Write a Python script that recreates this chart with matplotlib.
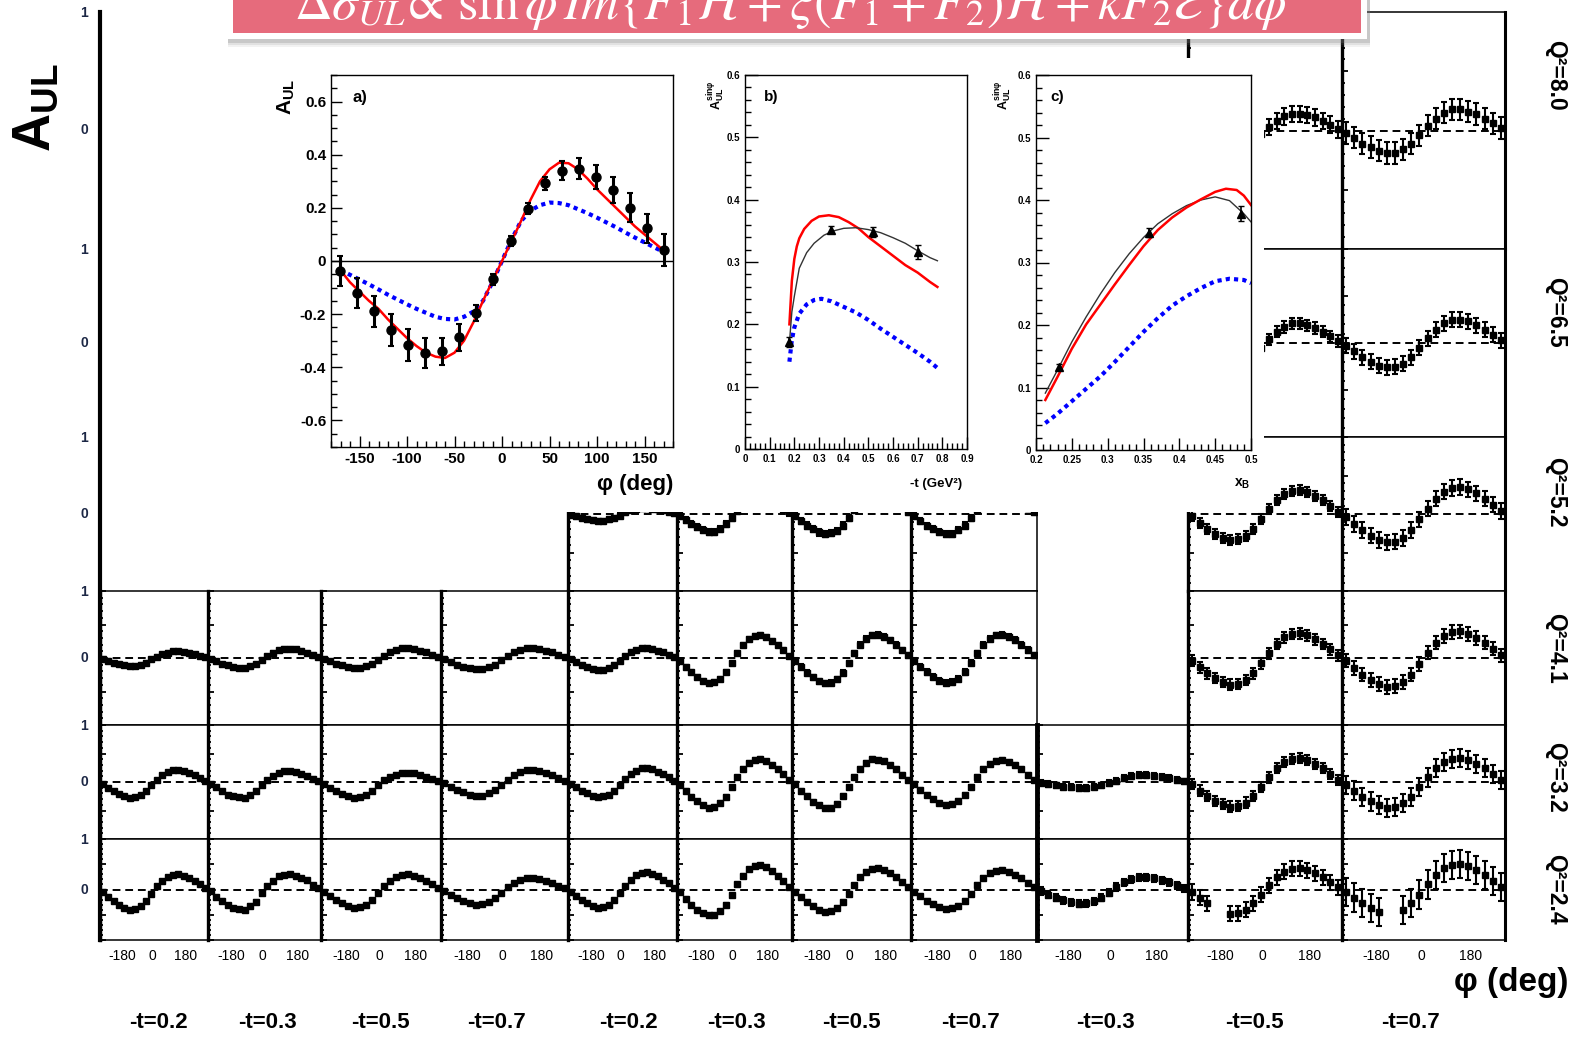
import numpy as np
import matplotlib
matplotlib.use("Agg")
import matplotlib.pyplot as plt
from matplotlib.patches import Rectangle
from matplotlib.lines import Line2D
from matplotlib.ticker import MultipleLocator

plt.rcParams['font.family'] = ['Liberation Sans', 'DejaVu Sans']
plt.rcParams['mathtext.fontset'] = 'custom'
plt.rcParams['mathtext.rm'] = 'Liberation Sans'
plt.rcParams['mathtext.it'] = 'Liberation Sans:italic'
plt.rcParams['mathtext.bf'] = 'Liberation Sans:bold'
NARROW = ['Liberation Sans Narrow', 'Liberation Sans', 'DejaVu Sans']

# ---------------------------------------------------------------- data
Q2_LABELS = ['Q²=8.0', 'Q²=6.5', 'Q²=5.2', 'Q²=4.1', 'Q²=3.2', 'Q²=2.4']
T_LABELS = ['-t=0.2', '-t=0.3', '-t=0.5', '-t=0.7', '-t=0.2', '-t=0.3',
            '-t=0.5', '-t=0.7', '-t=0.3', '-t=0.5', '-t=0.7']
PHI_TICK_LABELS = ['-180', '0', '180']

PHI_BINS = [-171, -153, -135, -117, -99, -81, -63, -45, -27, -9,
            9, 27, 45, 63, 81, 99, 117, 135, 153, 171]

nan = np.nan

A_Q80 = [None, None, None, None, None, None, None, None, None,
         [-0.02, -0.06, -0.10, -0.13, -0.15, -0.17, -0.17, -0.14, -0.10, -0.03,
          0.03, 0.08, 0.12, 0.14, 0.14, 0.13, 0.11, 0.08, 0.05, 0.01],
         [-0.02, -0.06, -0.11, -0.14, -0.17, -0.19, -0.19, -0.16, -0.11, -0.04,
          0.04, 0.10, 0.15, 0.18, 0.18, 0.16, 0.14, 0.10, 0.06, 0.02]]
E_Q80 = [None, None, None, None, None, None, None, None, None, 0.07, 0.09]

A_Q65 = [None, None, None, None, None, None, None, None, None,
         [-0.02, -0.08, -0.14, -0.18, -0.22, -0.24, -0.24, -0.20, -0.14, -0.05,
          0.04, 0.12, 0.17, 0.21, 0.21, 0.19, 0.16, 0.12, 0.07, 0.02],
         [-0.03, -0.09, -0.15, -0.20, -0.24, -0.26, -0.25, -0.22, -0.15, -0.05,
          0.05, 0.14, 0.21, 0.25, 0.25, 0.23, 0.19, 0.14, 0.09, 0.03]]
E_Q65 = [None, None, None, None, None, None, None, None, None, 0.06, 0.08]

A_Q52 = [None, None, None, None,
         [-0.01, -0.03, -0.05, -0.07, -0.08, -0.09, -0.09, -0.07, -0.05, -0.02,
          0.02, 0.05, 0.07, 0.08, 0.08, 0.07, 0.06, 0.05, 0.03, 0.01],
         [-0.02, -0.08, -0.13, -0.17, -0.21, -0.23, -0.23, -0.19, -0.13, -0.05,
          0.04, 0.13, 0.18, 0.22, 0.22, 0.20, 0.17, 0.13, 0.07, 0.02],
         [-0.03, -0.09, -0.15, -0.20, -0.24, -0.26, -0.25, -0.22, -0.15, -0.05,
          0.05, 0.14, 0.21, 0.25, 0.25, 0.23, 0.19, 0.14, 0.09, 0.03],
         [-0.02, -0.09, -0.16, -0.20, -0.23, -0.26, -0.26, -0.21, -0.15, -0.05,
          0.05, 0.15, 0.21, 0.24, 0.25, 0.23, 0.19, 0.14, 0.08, 0.03],
         None,
         [-0.03, -0.12, -0.19, -0.26, -0.31, -0.34, -0.33, -0.28, -0.19, -0.07,
          0.06, 0.18, 0.26, 0.30, 0.31, 0.28, 0.24, 0.18, 0.11, 0.03],
         [-0.04, -0.13, -0.21, -0.28, -0.34, -0.37, -0.36, -0.31, -0.21, -0.07,
          0.07, 0.20, 0.29, 0.34, 0.35, 0.32, 0.27, 0.20, 0.12, 0.04]]
E_Q52 = [None, None, None, None, 0.03, 0.04, 0.04, 0.04, None, 0.065, 0.10]

A_Q41 = [[-0.01, -0.04, -0.07, -0.09, -0.11, -0.12, -0.12, -0.10, -0.07, -0.02,
          0.02, 0.06, 0.08, 0.10, 0.10, 0.09, 0.08, 0.06, 0.03, 0.01],
         [-0.02, -0.05, -0.09, -0.11, -0.14, -0.15, -0.15, -0.12, -0.09, -0.03,
          0.03, 0.08, 0.12, 0.14, 0.14, 0.13, 0.11, 0.08, 0.05, 0.01],
         [-0.02, -0.05, -0.09, -0.11, -0.14, -0.15, -0.15, -0.12, -0.09, -0.03,
          0.03, 0.09, 0.12, 0.15, 0.15, 0.14, 0.11, 0.09, 0.05, 0.02],
         [-0.02, -0.06, -0.10, -0.13, -0.15, -0.17, -0.17, -0.14, -0.10, -0.03,
          0.03, 0.09, 0.12, 0.15, 0.15, 0.14, 0.11, 0.09, 0.05, 0.02],
         [-0.02, -0.06, -0.10, -0.14, -0.16, -0.18, -0.18, -0.15, -0.10, -0.04,
          0.03, 0.09, 0.12, 0.15, 0.15, 0.14, 0.11, 0.09, 0.05, 0.02],
         [-0.04, -0.13, -0.21, -0.28, -0.34, -0.37, -0.36, -0.31, -0.21, -0.07,
          0.07, 0.19, 0.28, 0.33, 0.34, 0.31, 0.26, 0.19, 0.12, 0.03],
         [-0.04, -0.13, -0.22, -0.29, -0.35, -0.38, -0.37, -0.32, -0.22, -0.08,
          0.07, 0.20, 0.29, 0.34, 0.35, 0.32, 0.27, 0.20, 0.12, 0.04],
         [-0.04, -0.13, -0.21, -0.28, -0.34, -0.37, -0.36, -0.31, -0.21, -0.07,
          0.07, 0.20, 0.29, 0.34, 0.35, 0.32, 0.27, 0.20, 0.12, 0.04],
         None,
         [-0.04, -0.14, -0.23, -0.30, -0.36, -0.40, -0.39, -0.33, -0.23, -0.08,
          0.07, 0.21, 0.31, 0.36, 0.37, 0.34, 0.28, 0.21, 0.13, 0.04],
         [-0.04, -0.15, -0.25, -0.33, -0.39, -0.43, -0.42, -0.36, -0.25, -0.09,
          0.08, 0.23, 0.33, 0.39, 0.40, 0.36, 0.30, 0.23, 0.14, 0.04]]
E_Q41 = [0.02, 0.02, 0.02, 0.02, 0.02, 0.03, 0.035, 0.04, None, 0.08, 0.10]

A_Q32 = [[-0.03, -0.10, -0.16, -0.21, -0.25, -0.28, -0.27, -0.23, -0.16, -0.06,
          0.04, 0.12, 0.17, 0.21, 0.21, 0.19, 0.16, 0.12, 0.07, 0.02],
         [-0.03, -0.09, -0.16, -0.22, -0.25, -0.27, -0.28, -0.23, -0.15, -0.06,
          0.04, 0.11, 0.16, 0.19, 0.19, 0.17, 0.14, 0.11, 0.06, 0.02],
         [-0.03, -0.10, -0.16, -0.21, -0.25, -0.28, -0.27, -0.23, -0.16, -0.06,
          0.03, 0.09, 0.13, 0.16, 0.16, 0.15, 0.12, 0.09, 0.05, 0.02],
         [-0.02, -0.08, -0.14, -0.18, -0.22, -0.24, -0.24, -0.20, -0.14, -0.05,
          0.04, 0.12, 0.17, 0.21, 0.21, 0.19, 0.16, 0.12, 0.07, 0.02],
         [-0.03, -0.09, -0.15, -0.20, -0.24, -0.26, -0.25, -0.22, -0.15, -0.05,
          0.05, 0.14, 0.20, 0.24, 0.24, 0.22, 0.18, 0.14, 0.08, 0.02],
         [-0.05, -0.15, -0.26, -0.34, -0.41, -0.45, -0.44, -0.37, -0.26, -0.09,
          0.08, 0.23, 0.33, 0.39, 0.40, 0.36, 0.30, 0.23, 0.14, 0.04],
         [-0.04, -0.16, -0.25, -0.35, -0.40, -0.45, -0.45, -0.38, -0.25, -0.09,
          0.08, 0.22, 0.34, 0.40, 0.39, 0.37, 0.30, 0.22, 0.13, 0.04],
         [-0.04, -0.14, -0.23, -0.30, -0.36, -0.40, -0.39, -0.33, -0.23, -0.08,
          0.08, 0.22, 0.32, 0.37, 0.38, 0.35, 0.29, 0.22, 0.13, 0.04],
         [-0.01, -0.03, -0.06, -0.08, -0.09, -0.10, -0.10, -0.08, -0.06, -0.02,
          0.02, 0.07, 0.10, 0.12, 0.12, 0.11, 0.09, 0.07, 0.04, 0.01],
         [-0.04, -0.15, -0.25, -0.33, -0.39, -0.43, -0.42, -0.36, -0.25, -0.09,
          0.08, 0.24, 0.35, 0.41, 0.42, 0.38, 0.32, 0.24, 0.14, 0.04],
         [-0.05, -0.15, -0.26, -0.34, -0.41, -0.45, -0.44, -0.37, -0.26, -0.09,
          0.08, 0.24, 0.35, 0.41, 0.42, 0.38, 0.32, 0.24, 0.14, 0.04]]
E_Q32 = [0.02, 0.02, 0.02, 0.02, 0.02, 0.03, 0.035, 0.035, 0.05, 0.09, 0.16]

A_Q24 = [[-0.04, -0.14, -0.23, -0.30, -0.36, -0.40, -0.39, -0.33, -0.23, -0.08,
          0.06, 0.17, 0.25, 0.29, 0.30, 0.27, 0.23, 0.17, 0.10, 0.03],
         [-0.03, -0.15, -0.22, -0.31, -0.37, -0.39, -0.40, -0.32, -0.24, -0.07,
          0.07, 0.16, 0.26, 0.29, 0.31, 0.27, 0.22, 0.18, 0.09, 0.03],
         [-0.04, -0.12, -0.21, -0.27, -0.33, -0.36, -0.35, -0.30, -0.21, -0.07,
          0.06, 0.17, 0.25, 0.29, 0.30, 0.27, 0.23, 0.17, 0.10, 0.03],
         [-0.03, -0.10, -0.17, -0.23, -0.27, -0.30, -0.29, -0.25, -0.17, -0.06,
          0.04, 0.13, 0.18, 0.22, 0.22, 0.20, 0.17, 0.13, 0.07, 0.02],
         [-0.04, -0.12, -0.21, -0.27, -0.33, -0.36, -0.35, -0.30, -0.21, -0.07,
          0.07, 0.19, 0.28, 0.33, 0.34, 0.31, 0.26, 0.19, 0.12, 0.03],
         [-0.05, -0.18, -0.30, -0.40, -0.47, -0.51, -0.51, -0.43, -0.30, -0.10,
          0.10, 0.27, 0.40, 0.47, 0.48, 0.44, 0.36, 0.27, 0.16, 0.05],
         [-0.04, -0.15, -0.25, -0.33, -0.40, -0.44, -0.43, -0.37, -0.25, -0.09,
          0.08, 0.24, 0.35, 0.41, 0.42, 0.38, 0.32, 0.24, 0.14, 0.04],
         [-0.04, -0.13, -0.22, -0.29, -0.35, -0.38, -0.37, -0.32, -0.22, -0.08,
          0.08, 0.22, 0.32, 0.37, 0.38, 0.35, 0.29, 0.22, 0.13, 0.04],
         [-0.03, -0.10, -0.16, -0.21, -0.25, -0.28, -0.27, -0.23, -0.16, -0.06,
          0.05, 0.14, 0.20, 0.24, 0.24, 0.22, 0.18, 0.14, 0.08, 0.02],
         [-0.05, -0.16, -0.27, nan, nan, -0.48, -0.47, -0.40, -0.27, -0.10,
          0.08, 0.24, 0.35, 0.41, 0.42, 0.38, 0.32, 0.24, 0.14, 0.04],
         [-0.05, -0.16, -0.27, -0.36, -0.44, nan, nan, -0.40, -0.27, -0.10,
          0.10, 0.29, 0.42, 0.49, 0.50, 0.46, 0.38, 0.29, 0.17, 0.05]]
E_Q24 = [0.025, 0.025, 0.025, 0.025, 0.025, 0.03, 0.035, 0.04, 0.07, 0.15, 0.28]

ROWS_A = [A_Q80, A_Q65, A_Q52, A_Q41, A_Q32, A_Q24]
ROWS_E = [E_Q80, E_Q65, E_Q52, E_Q41, E_Q32, E_Q24]

# inset a): phi dependence at one kinematic bin
PHI_A = PHI_BINS
A_A = [-0.038, -0.12, -0.19, -0.26, -0.317, -0.346, -0.34, -0.287, -0.195, -0.069,
       0.075, 0.197, 0.293, 0.34, 0.348, 0.317, 0.267, 0.20, 0.123, 0.041]
DA_A = [0.055, 0.055, 0.06, 0.06, 0.06, 0.055, 0.05, 0.05, 0.03, 0.02,
        0.02, 0.02, 0.025, 0.035, 0.04, 0.045, 0.05, 0.055, 0.055, 0.06]
PHI_MODEL = [-170, -160, -150, -140, -130, -120, -110, -100, -90, -80, -70, -60,
             -50, -40, -30, -20, -10, 0, 10, 20, 30, 40, 50, 60, 70, 80, 90,
             100, 110, 120, 130, 140, 150, 160, 170]
RED_A = [-0.035, -0.08, -0.115, -0.15, -0.18, -0.22, -0.255, -0.29, -0.32, -0.345,
         -0.36, -0.365, -0.345, -0.30, -0.23, -0.15, -0.075, 0.0, 0.075, 0.15,
         0.23, 0.30, 0.345, 0.37, 0.368, 0.345, 0.31, 0.27, 0.235, 0.20, 0.165,
         0.13, 0.10, 0.07, 0.04]
BLUE_A = [-0.034, -0.052, -0.07, -0.088, -0.107, -0.127, -0.145, -0.163, -0.18,
          -0.195, -0.21, -0.218, -0.22, -0.21, -0.19, -0.15, -0.08, 0.0, 0.08,
          0.15, 0.19, 0.21, 0.22, 0.218, 0.21, 0.195, 0.18, 0.163, 0.145, 0.127,
          0.107, 0.088, 0.07, 0.052, 0.034]

# inset b): sin(phi) moment versus -t
T_B = [0.18, 0.35, 0.52, 0.70]
A_B = [0.172, 0.352, 0.348, 0.316]
DA_B = [0.008, 0.005, 0.008, 0.011]
T_FIT_B = [0.18, 0.19, 0.20, 0.22, 0.25, 0.28, 0.32, 0.36, 0.40, 0.45, 0.50,
           0.55, 0.60, 0.65, 0.70, 0.75, 0.78]
FIT_B = [0.17, 0.22, 0.245, 0.29, 0.315, 0.33, 0.343, 0.35, 0.354, 0.355, 0.352,
         0.347, 0.339, 0.33, 0.318, 0.307, 0.302]
T_RED_B = [0.18, 0.19, 0.20, 0.21, 0.22, 0.24, 0.27, 0.30, 0.34, 0.38, 0.42,
           0.46, 0.50, 0.55, 0.60, 0.65, 0.70, 0.75, 0.78]
RED_B = [0.20, 0.27, 0.305, 0.325, 0.338, 0.353, 0.366, 0.373, 0.375, 0.372,
         0.364, 0.354, 0.34, 0.325, 0.31, 0.295, 0.283, 0.268, 0.26]
T_BLUE_B = [0.18, 0.19, 0.20, 0.22, 0.25, 0.28, 0.31, 0.35, 0.40, 0.45, 0.50,
            0.55, 0.60, 0.65, 0.70, 0.75, 0.78]
BLUE_B = [0.14, 0.175, 0.195, 0.217, 0.232, 0.239, 0.241, 0.237, 0.228, 0.219,
          0.207, 0.193, 0.18, 0.167, 0.154, 0.14, 0.13]

# inset c): sin(phi) moment versus x_B
X_C = [0.232, 0.357, 0.486]
A_C = [0.133, 0.348, 0.378]
DA_C = [0.005, 0.007, 0.012]
X_FIT_C = [0.213, 0.23, 0.25, 0.27, 0.29, 0.31, 0.33, 0.35, 0.37, 0.39, 0.41,
           0.43, 0.45, 0.47, 0.49, 0.50]
FIT_C = [0.091, 0.128, 0.173, 0.213, 0.25, 0.284, 0.314, 0.34, 0.362, 0.378,
         0.391, 0.40, 0.405, 0.399, 0.378, 0.365]
X_RED_C = [0.213, 0.23, 0.25, 0.27, 0.29, 0.31, 0.33, 0.35, 0.37, 0.39, 0.41,
           0.43, 0.45, 0.465, 0.48, 0.49, 0.50]
RED_C = [0.08, 0.117, 0.162, 0.201, 0.233, 0.265, 0.296, 0.326, 0.352, 0.372,
         0.388, 0.401, 0.413, 0.418, 0.416, 0.407, 0.392]
X_BLUE_C = [0.213, 0.23, 0.25, 0.27, 0.29, 0.31, 0.33, 0.35, 0.37, 0.39, 0.41,
            0.43, 0.45, 0.47, 0.49, 0.50]
BLUE_C = [0.043, 0.058, 0.078, 0.098, 0.118, 0.141, 0.165, 0.189, 0.211, 0.231,
          0.246, 0.259, 0.27, 0.274, 0.272, 0.267]

FORMULA = (r'$\Delta\sigma_{UL}\!\propto\,\sin\phi\,Im\{F_1\mathcal{H}+\xi(F_1+F_2)'
           r'\tilde{\mathcal{H}}+kF_2\mathcal{E}\}d\phi$')

# ---------------------------------------------------------------- layout (pixels)
W, H = 1576, 1045
COL_EDGES = [100, 208, 321, 441, 568, 677, 792, 911, 1037, 1188, 1342, 1505]
ROW_EDGES = [12, 249, 437, 591, 725, 839, 940]
T_LABEL_X = [158, 267, 380, 497, 628, 736, 851, 970, 1105, 1254, 1410]
Q2_LABEL_Y = [75, 312, 492, 648, 777, 889]


def fx(px):
    return px / W


def fy(py):
    return 1 - py / H


def pbox(x0, y0, x1, y1):
    return [x0 / W, 1 - y1 / H, (x1 - x0) / W, (y1 - y0) / H]


fig = plt.figure(figsize=(W / 100, H / 100), dpi=100)
fig.patch.set_facecolor('white')

# ---------------------------------------------------------------- grid of panels
n_rows = len(ROWS_A)
for r in range(n_rows):
    y0, y1 = ROW_EDGES[r], ROW_EDGES[r + 1]
    for c, vals in enumerate(ROWS_A[r]):
        if vals is None:
            continue
        x0, x1 = COL_EDGES[c], COL_EDGES[c + 1]
        ax = fig.add_axes(pbox(x0, y0, x1, y1), zorder=0)
        ax.set_xlim(-180, 180)
        ax.set_ylim(-1, 1)
        ax.axhline(0, color='k', lw=1.4, ls=(0, (4, 2.5)), zorder=1)
        ax.errorbar(PHI_BINS, np.array(vals, dtype=float), yerr=ROWS_E[r][c],
                    fmt='s', ms=4, mfc='k', mec='k', ecolor='k',
                    elinewidth=1.5, capsize=2.2, capthick=1.5, zorder=2)
        for side in ('top', 'bottom', 'right'):
            ax.spines[side].set_linewidth(1.1)
        ax.spines['left'].set_linewidth(3.5 if c == 8 else 2.4)
        if c == len(COL_EDGES) - 2:
            ax.spines['right'].set_linewidth(2.2)
        ax.set_xticks([])
        ax.yaxis.set_major_locator(MultipleLocator(0.5))
        ax.yaxis.set_minor_locator(MultipleLocator(0.1))
        ax.tick_params(axis='y', which='both', direction='in', left=True,
                       right=False, labelleft=False, width=1.3)
        ax.tick_params(axis='y', which='major', length=4)
        ax.tick_params(axis='y', which='minor', length=2.5)
        if r == n_rows - 1:
            for lbl, xf in zip(PHI_TICK_LABELS, (0.21, 0.485, 0.79)):
                ax.text(xf, -0.16, lbl, transform=ax.transAxes, ha='center',
                        va='center', fontsize=10, family=NARROW,
                        fontstretch='condensed')

# main left axis line and its labels
fig.add_artist(Line2D([fx(100), fx(100)], [fy(12), fy(940)],
                      transform=fig.transFigure, color='k', lw=3, zorder=2))
for r in range(n_rows):
    top, bot = ROW_EDGES[r], ROW_EDGES[r + 1]
    fig.text(fx(84), fy(top + 1), '1', ha='center', va='center', fontsize=10,
             fontweight='bold', color='#1c2745')
    fig.text(fx(84), fy((top + bot) / 2), '0', ha='center', va='center',
             fontsize=10, fontweight='bold', color='#1c2745')
    fig.text(fx(1556), fy(Q2_LABEL_Y[r]), Q2_LABELS[r], rotation=270,
             ha='center', va='center', fontsize=16.5, fontweight='bold',
             family=NARROW, fontstretch='condensed')

for lbl, xp in zip(T_LABELS, T_LABEL_X):
    fig.text(fx(xp), fy(1023), lbl, ha='center', va='center', fontsize=16,
             fontweight='bold', family=NARROW, fontstretch='condensed')

fig.text(fx(36), fy(108), r'$\mathbf{A}_{\mathbf{UL}}$', rotation=90,
         ha='center', va='center', fontsize=38)
fig.text(fx(1568), fy(983), 'φ (deg)', ha='right', va='center', fontsize=24,
         fontweight='bold')

# white backdrop behind the inset plots
fig.add_artist(Rectangle((fx(268), fy(512)), (1264 - 268) / W, (512 - 58) / H,
                         transform=fig.transFigure, facecolor='white',
                         edgecolor='none', zorder=1.5))


def style_inset(ax, fs):
    for s in ax.spines.values():
        s.set_linewidth(1.0)
    ax.tick_params(which='both', direction='in', top=False, right=False,
                   labelsize=fs, width=1.0)


# ---------------------------------------------------------------- inset a
axa = fig.add_axes(pbox(331, 75, 673, 447), zorder=3)
axa.set_xlim(-180, 180)
axa.set_ylim(-0.7, 0.7)
axa.axhline(0, color='k', lw=1.0)
axa.plot(PHI_MODEL, BLUE_A, color='#0000ff', lw=3, ls=(0, (1, 1)))
axa.plot(PHI_MODEL, RED_A, color='#ff0000', lw=1.8)
axa.errorbar(PHI_A, A_A, yerr=DA_A, fmt='o', ms=6.5, color='k', elinewidth=2.2,
             capsize=2.5, capthick=1.5)
style_inset(axa, 10)
axa.set_xticks([-150, -100, -50, 0, 50, 100, 150],
               labels=['-150', '-100', '-50', '0', '50', '100', '150'],
               fontweight='bold', fontsize=11)
axa.set_yticks([-0.6, -0.4, -0.2, 0, 0.2, 0.4, 0.6],
               labels=['-0.6', '-0.4', '-0.2', '0', '0.2', '0.4', '0.6'],
               fontweight='bold', fontsize=11)
axa.xaxis.set_minor_locator(MultipleLocator(10))
axa.yaxis.set_minor_locator(MultipleLocator(0.05))
axa.tick_params(which='major', length=8)
axa.tick_params(which='minor', length=4)
axa.text(-0.13, 0.94, r'$\mathbf{A}_{\mathbf{UL}}$', transform=axa.transAxes,
         rotation=90, ha='center', va='center', fontsize=15)
axa.text(0.085, 0.94, 'a)', transform=axa.transAxes, ha='center', va='center',
         fontsize=12, fontweight='bold')
axa.text(1.0, -0.102, 'φ (deg)', transform=axa.transAxes, ha='right',
         va='center', fontsize=16, fontweight='bold')

# ---------------------------------------------------------------- inset b
axb = fig.add_axes(pbox(745, 75, 967, 449), zorder=3)
axb.set_xlim(0, 0.9)
axb.set_ylim(0, 0.6)
axb.plot(T_BLUE_B, BLUE_B, color='#0000ff', lw=3, ls=(0, (1, 1)))
axb.plot(T_RED_B, RED_B, color='#ff0000', lw=1.8)
axb.plot(T_FIT_B, FIT_B, color='#333333', lw=1.0)
axb.errorbar(T_B, A_B, yerr=DA_B, fmt='^', ms=5.5, color='k', elinewidth=1.2,
             capsize=2.5, capthick=1.0)
style_inset(axb, 7)
xt = [0, 0.1, 0.2, 0.3, 0.4, 0.5, 0.6, 0.7, 0.8, 0.9]
axb.set_xticks(xt, labels=['0', '0.1', '0.2', '0.3', '0.4', '0.5', '0.6', '0.7',
                           '0.8', '0.9'], fontweight='bold', fontsize=7)
yt = [0, 0.1, 0.2, 0.3, 0.4, 0.5, 0.6]
ylabels = ['0', '0.1', '0.2', '0.3', '0.4', '0.5', '0.6']
axb.set_yticks(yt, labels=ylabels, fontweight='bold', fontsize=7)
axb.xaxis.set_minor_locator(MultipleLocator(0.02))
axb.yaxis.set_minor_locator(MultipleLocator(0.02))
axb.tick_params(which='major', length=9)
axb.tick_params(which='minor', length=4)
axb.text(-0.13, 0.947, r'$\mathbf{A}_{\mathbf{UL}}^{\mathbf{sin\varphi}}$',
         transform=axb.transAxes, rotation=90, ha='center', va='center',
         fontsize=9)
axb.text(0.117, 0.94, 'b)', transform=axb.transAxes, ha='center', va='center',
         fontsize=11, fontweight='bold')
axb.text(0.98, -0.093, '-t (GeV²)', transform=axb.transAxes, ha='right',
         va='center', fontsize=9.5, fontweight='bold')

# ---------------------------------------------------------------- inset c
axc = fig.add_axes(pbox(1036, 75, 1251, 450), zorder=3)
axc.set_xlim(0.2, 0.5)
axc.set_ylim(0, 0.6)
axc.plot(X_BLUE_C, BLUE_C, color='#0000ff', lw=3, ls=(0, (1, 1)))
axc.plot(X_FIT_C, FIT_C, color='#333333', lw=1.0)
axc.plot(X_RED_C, RED_C, color='#ff0000', lw=1.8)
axc.errorbar(X_C, A_C, yerr=DA_C, fmt='^', ms=5.5, color='k', elinewidth=1.2,
             capsize=2.5, capthick=1.0)
style_inset(axc, 7)
axc.set_xticks([0.2, 0.25, 0.3, 0.35, 0.4, 0.45, 0.5],
               labels=['0.2', '0.25', '0.3', '0.35', '0.4', '0.45', '0.5'],
               fontweight='bold', fontsize=7)
axc.set_yticks(yt, labels=ylabels, fontweight='bold', fontsize=7)
axc.xaxis.set_minor_locator(MultipleLocator(0.01))
axc.yaxis.set_minor_locator(MultipleLocator(0.02))
axc.tick_params(which='major', length=9)
axc.tick_params(which='minor', length=4)
axc.text(-0.153, 0.947, r'$\mathbf{A}_{\mathbf{UL}}^{\mathbf{sin\varphi}}$',
         transform=axc.transAxes, rotation=90, ha='center', va='center',
         fontsize=9)
axc.text(0.097, 0.94, 'c)', transform=axc.transAxes, ha='center', va='center',
         fontsize=11, fontweight='bold')
axc.text(0.958, -0.09, r'$\mathbf{x_B}$', transform=axc.transAxes, ha='center',
         va='center', fontsize=10)

# ---------------------------------------------------------------- banner
for dy, alpha in ((8, 0.10), (6, 0.15), (4, 0.25)):
    fig.add_artist(Rectangle((fx(228), fy(39 + dy)), (1370 - 228) / W,
                             (39 + dy + 5) / H, transform=fig.transFigure,
                             facecolor='#808080', alpha=alpha,
                             edgecolor='none', zorder=4))
fig.add_artist(Rectangle((fx(226), fy(39)), (1367 - 226) / W, 45 / H,
                         transform=fig.transFigure, facecolor='white',
                         edgecolor='none', zorder=4.1))
fig.add_artist(Rectangle((fx(233), fy(33)), (1361 - 233) / W, 40 / H,
                         transform=fig.transFigure, facecolor='#e66b7c',
                         edgecolor='none', zorder=4.2))
ftxt = fig.text(fx(790), fy(20), FORMULA, color='white', fontsize=34,
                ha='center', va='baseline', math_fontfamily='stix', zorder=5)
fig.canvas.draw()
wpx = ftxt.get_window_extent().width
ftxt.set_fontsize(34 * 992 / wpx)

fig.savefig('out.png', dpi=100, facecolor='white')
